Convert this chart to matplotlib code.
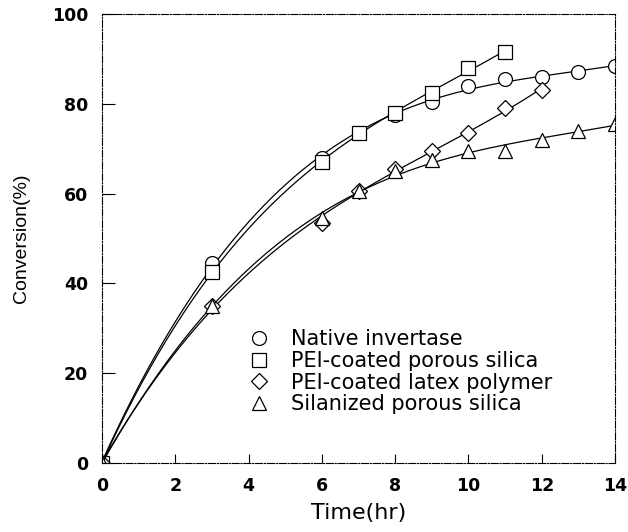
import numpy as np
import matplotlib.pyplot as plt

t_native = [0, 3, 6, 7, 8, 9, 10, 11, 12, 13, 14]
c_native = [0, 44.5, 68, 73.5, 77.5, 80.5, 84, 85.5, 86, 87, 88.5]

t_pei_silica = [0, 3, 6, 7, 8, 9, 10, 11]
c_pei_silica = [0, 42.5, 67, 73.5, 78, 82.5, 88, 91.5]

t_latex = [0, 3, 6, 7, 8, 9, 10, 11, 12]
c_latex = [0, 35, 53.5, 60.5, 65.5, 69.5, 73.5, 79, 83]

t_silanized = [0, 3, 6, 7, 8, 9, 10, 11, 12, 13, 14]
c_silanized = [0, 35, 54.5, 60.5, 65, 67.5, 69.5, 69.5, 72, 74, 75.5]

labels = ["Native invertase", "PEI-coated porous silica",
          "PEI-coated latex polymer", "Silanized porous silica"]

plt.rcParams['font.family'] = ['DejaVu Sans']

fig = plt.figure(figsize=(6.28, 5.32), dpi=100)
ax = fig.add_axes([102 / 628, 69 / 532, 513 / 628, 449 / 532])

series = [(t_native, c_native, 'o'), (t_pei_silica, c_pei_silica, 's'),
          (t_latex, c_latex, 'D'), (t_silanized, c_silanized, '^')]
for (t, c, m), lab in zip(series, labels):
    t = np.array(t, dtype=float)
    c = np.array(c, dtype=float)
    coef = np.polyfit(t, c, 3)
    tt = np.linspace(0, t.max(), 200)
    ax.plot(tt, np.polyval(coef, tt), color='black', linewidth=0.9)
    ms = 8 if m == 'D' else 10
    ax.plot(t, c, m, mfc='white', mec='black', mew=0.9, markersize=ms,
            linestyle='none', label=lab)

ax.set_xlim(0, 14)
ax.set_ylim(0, 100)
ax.set_xticks(range(0, 15, 2))
ax.set_yticks(range(0, 101, 20))
ax.tick_params(direction='in', width=0.8, labelsize=12.5, pad=10)
ax.tick_params(axis='y', length=9.5)
ax.tick_params(axis='x', length=6.5)
for lbl in ax.get_xticklabels() + ax.get_yticklabels():
    lbl.set_fontweight('bold')
for sp in ax.spines.values():
    sp.set_linestyle('-.')
    sp.set_linewidth(0.8)

ax.set_xlabel("Time(hr)", fontsize=16, labelpad=6)
ax.set_ylabel("Conversion(%)", fontsize=14, family=['Liberation Sans'])
ax.yaxis.set_label_coords(-0.14, 0.5)

ax.legend(loc='upper left', bbox_to_anchor=(0.2865, 0.298), frameon=False,
          fontsize=15, borderpad=0, borderaxespad=0, handletextpad=1.0,
          labelspacing=0.08, handlelength=1.0)

fig.savefig("out.png", dpi=100)
